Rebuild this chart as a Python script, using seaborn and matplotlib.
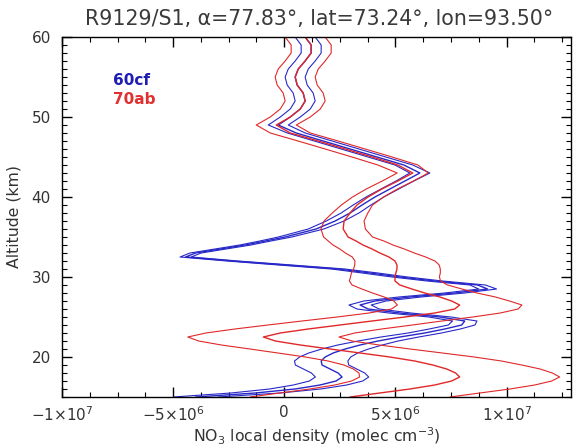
import numpy as np
import pandas as pd
import matplotlib
matplotlib.use("Agg")
import matplotlib.pyplot as plt
import seaborn as sns
from matplotlib.ticker import MultipleLocator, FixedLocator

sns.set_style("ticks")
plt.rcParams["font.family"] = ["DejaVu Sans"]

# Altitude grid (km)
altitude = [60, 59, 58, 57, 56, 55, 54, 53, 52, 51, 50, 49, 48, 47, 46, 45, 44, 43, 42, 41,
            40, 39, 38, 37, 36,
            35, 34.5, 34, 33.5, 33, 32.5, 32, 31.5, 31, 30.5,
            30, 29.5, 29, 28.5, 28, 27.5, 27, 26.5, 26, 25.5,
            25, 24.5, 24, 23.5, 23, 22.5, 22, 21.5, 21, 20.5,
            20, 19.5, 19, 18.5, 18, 17.5, 17, 16.5, 16, 15.5, 15]

# NO3 local density, units of 1e6 molec cm^-3
dens_60cf = [0.94, 1.21, 1.21, 0.94, 0.63, 0.49, 0.58, 0.85, 0.94, 0.72, 0.27, -0.27, 0.54,
             1.75, 2.96, 4.17, 5.38, 6.10, 5.43, 4.75, 4.08, 3.50, 2.96, 2.29, 1.43,
             0.04, -0.85, -1.75, -2.87, -3.99, -4.44, -2.33, 0.04, 2.42, 3.86,
             5.20, 6.77, 8.70, 9.15, 7.67, 5.65, 4.08, 3.41, 3.77, 5.20,
             7.00, 8.12, 7.98, 7.22, 6.32, 5.20, 4.22, 3.41, 2.74, 2.20,
             1.84, 1.66, 1.70, 2.06, 2.42, 2.60, 2.33, 1.61, 0.49, -1.30, -3.99]
err_60cf = [0.45, 0.45, 0.45, 0.45, 0.45, 0.45, 0.45, 0.45, 0.45, 0.45, 0.45, 0.45, 0.4,
            0.4, 0.4, 0.4, 0.4, 0.45, 0.4, 0.4, 0.4, 0.4, 0.4, 0.4, 0.35,
            0.3, 0.25, 0.25, 0.25, 0.25, 0.25, 0.25, 0.3, 0.3, 0.35,
            0.35, 0.35, 0.35, 0.4, 0.45, 0.5, 0.5, 0.5, 0.5, 0.5,
            0.5, 0.55, 0.6, 0.7, 0.75, 0.85, 0.9, 1.0, 1.05, 1.1,
            1.15, 1.2, 1.2, 1.2, 1.2, 1.2, 1.2, 1.2, 1.15, 1.1, 1.0]
dens_70ab = [0.94, 1.21, 1.21, 0.94, 0.63, 0.49, 0.58, 0.85, 0.94, 0.72, 0.27, -0.36, 0.27,
             1.52, 2.74, 3.95, 5.11, 5.78, 5.11, 4.39, 3.77, 3.27, 2.96, 2.69, 2.65,
             2.87, 3.23, 3.54, 3.95, 4.30, 4.71, 4.98, 5.07, 5.07, 5.02,
             4.98, 4.98, 5.20, 5.74, 6.32, 7.00, 7.53, 7.89, 7.67, 6.77,
             5.43, 3.95, 2.51, 1.08, -0.18, -0.94, -0.40, 0.72, 2.06, 3.41,
             4.75, 5.87, 6.68, 7.31, 7.71, 7.89, 7.53, 6.77, 5.65, 4.30, 2.96]
err_70ab = [0.9, 0.9, 0.9, 0.9, 0.9, 0.9, 0.9, 0.9, 0.9, 0.9, 0.9, 0.9, 0.9,
            0.9, 0.9, 0.9, 0.9, 0.7, 0.7, 0.7, 0.7, 0.7, 0.8, 0.9, 1.0,
            1.1, 1.25, 1.35, 1.45, 1.55, 1.65, 1.8, 1.9, 1.95, 2.0,
            2.0, 2.05, 2.15, 2.25, 2.35, 2.5, 2.6, 2.8, 2.85, 2.95,
            3.05, 3.15, 3.25, 3.3, 3.35, 3.4, 3.45, 3.55, 3.6, 3.7,
            3.8, 3.9, 4.0, 4.2, 4.35, 4.5, 4.5, 4.5, 4.5, 4.5, 4.5]

series_names = ["60cf", "70ab"]
series_colors = ["#2828c8", "#e02828"]

x_ticks = [-1e7, -5e6, 0, 5e6, 1e7]
x_tick_labels = ["\u22121\u00d710$^7$", "\u22125\u00d710$^6$", "0", "5\u00d710$^6$", "1\u00d710$^7$"]
y_ticks = [20, 30, 40, 50, 60]

fig = plt.figure(figsize=(5.76, 4.48), dpi=100)
ax = fig.add_axes([62 / 576, 1 - 397 / 448, (571 - 62) / 576, (397 - 37) / 448])

alt = np.array(altitude)
for name, color, dens, err in [("60cf", series_colors[0], dens_60cf, err_60cf),
                               ("70ab", series_colors[1], dens_70ab, err_70ab)]:
    d = np.array(dens) * 1e6
    e = np.array(err) * 1e6
    for vals, lw in [(d - e, 0.8), (d + e, 0.8), (d, 1.0)]:
        sns.lineplot(x=vals, y=alt, orient="y", estimator=None, sort=True,
                     color=color, linewidth=lw, ax=ax)

ax.set_xlim(-1e7, 1.29e7)
ax.set_ylim(15, 60)
ax.xaxis.set_major_locator(FixedLocator(x_ticks))
ax.set_xticklabels(x_tick_labels)
ax.xaxis.set_minor_locator(MultipleLocator(1.25e6))
ax.yaxis.set_major_locator(FixedLocator(y_ticks))
ax.yaxis.set_minor_locator(MultipleLocator(1))

for s in ax.spines.values():
    s.set_visible(True)
    s.set_linewidth(1.0)
    s.set_color("black")
ax.tick_params(which="both", direction="in", top=True, right=True, colors="black",
               labelcolor="#333333", labelsize=11)
ax.tick_params(which="major", length=7, width=1.0)
ax.tick_params(which="minor", length=3.5, width=0.8)
ax.tick_params(axis="x", which="major", pad=6)
ax.tick_params(axis="y", which="major", pad=8)

ax.set_xlabel("NO$_3$ local density (molec cm$^{-3}$)", fontsize=11.3, color="#333333", labelpad=1)
ax.set_ylabel("Altitude (km)", fontsize=11.3, color="#333333", labelpad=7)
fig.text(319 / 576, 1 - 19 / 448, "R9129/S1, \u03b1=77.83\u00b0, lat=73.24\u00b0, lon=93.50\u00b0",
         ha="center", va="center", fontsize=14.8, color="#3a3a3a")

ax.text(0.10, 0.878, series_names[0], transform=ax.transAxes, color="#1e1eb4",
        fontsize=11, fontweight="bold", va="center", ha="left")
ax.text(0.10, 0.826, series_names[1], transform=ax.transAxes, color="#e03030",
        fontsize=11, fontweight="bold", va="center", ha="left")

fig.savefig("out.png", dpi=100)
